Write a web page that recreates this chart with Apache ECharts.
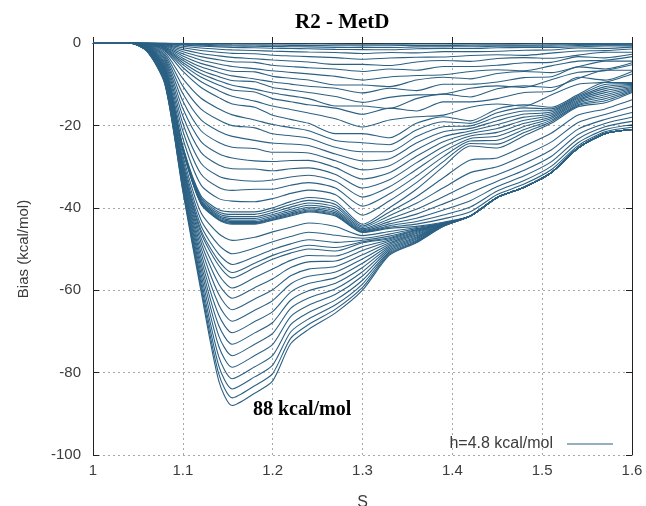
<!DOCTYPE html>
<html>
<head>
<meta charset="utf-8">
<script src="https://cdn.jsdelivr.net/npm/echarts@6/dist/echarts.min.js"></script>
<style>
  html, body { margin: 0; padding: 0; background: #fff; }
  #chart { width: 646px; height: 506px; }
</style>
</head>
<body>
<div id="chart"></div>
<script>
var sValues = [1.00, 1.04, 1.06, 1.08, 1.10, 1.12, 1.14, 1.155, 1.18, 1.20, 1.22, 1.24,
               1.27, 1.30, 1.33, 1.36, 1.39, 1.42, 1.45, 1.48, 1.51, 1.54, 1.57, 1.60];

// early profiles: shallow filling over the whole range
var earlyBias = [
  [0,0,0,-0.03,-0.09,-0.14,-0.17,-0.19,-0.21,-0.23,-0.24,-0.25,-0.27,-0.3,-0.27,-0.26,-0.25,-0.23,-0.22,-0.23,-0.19,-0.15,-0.14,-0.11],
  [0,0,0,-0.06,-0.21,-0.33,-0.41,-0.46,-0.5,-0.54,-0.57,-0.6,-0.65,-0.7,-0.65,-0.6,-0.6,-0.55,-0.5,-0.55,-0.45,-0.35,-0.35,-0.3],
  [0,0,0,-0.1,-0.33,-0.52,-0.65,-0.72,-0.79,-0.86,-0.9,-0.95,-1.05,-1.1,-1.1,-0.95,-0.9,-0.9,-0.8,-0.75,-0.75,-0.6,-0.5,-0.45],
  [0,0,0,-0.14,-0.49,-0.77,-0.95,-1.06,-1.16,-1.26,-1.33,-1.4,-1.55,-1.6,-1.65,-1.4,-1.3,-1.35,-1.15,-1.1,-1.1,-0.9,-0.7,-0.7],
  [0,0,0,-0.22,-0.77,-1.21,-1.5,-1.67,-1.83,-1.98,-2.09,-2.2,-2.3,-2.55,-2.3,-2.4,-2.1,-2.1,-2.0,-1.75,-1.7,-1.2,-1.3,-1.0],
  [0,0,0,-0.33,-1.16,-1.82,-2.24,-2.51,-2.6,-2.97,-3.14,-3.3,-3.55,-3.95,-3.65,-3.45,-3.4,-3.05,-2.85,-3.0,-2.45,-1.95,-1.85,-1.45],
  [0,0,0,-0.46,-1.61,-2.53,-3.13,-3.5,-3.82,-4.14,-4.37,-4.6,-5.2,-5.2,-5.45,-4.6,-4.25,-4.45,-3.75,-3.55,-3.7,-2.95,-2.25,-2.25],
  [0,0,-0.1,-0.6,-2.1,-3.3,-4.08,-4.56,-4.7,-5.4,-5.7,-6.0,-6.3,-6.9,-6.3,-6.6,-5.7,-5.7,-5.4,-4.8,-4.7,-3.3,-3.6,-2.75],
  [0,0,-0.1,-0.75,-2.63,-4.13,-5.1,-5.7,-6.23,-6.75,-7.13,-7.5,-8.1,-9.0,-8.25,-7.9,-7.7,-6.9,-6.5,-6.75,-5.55,-4.4,-4.2,-3.3],
  [0,0,-0.1,-0.9,-3.15,-4.95,-6.12,-6.84,-7.0,-8.1,-8.55,-9.0,-10.2,-10.2,-10.6,-9.0,-8.3,-8.7,-7.4,-6.9,-7.2,-5.75,-4.4,-4.4],
  [0,0,-0.2,-1.05,-3.68,-5.78,-7.14,-7.98,-8.72,-9.45,-9.98,-10.5,-11.0,-12.1,-11.0,-11.55,-10.0,-10.0,-9.45,-8.4,-8.2,-5.8,-6.3,-4.8],
  [0,0,-0.2,-1.2,-4.2,-6.6,-8.16,-9.12,-9.4,-10.8,-11.4,-12.0,-13.0,-14.4,-13.2,-12.6,-12.4,-11.0,-10.4,-10.8,-8.9,-7.1,-6.7,-5.3],
  [0,0,-0.2,-1.35,-4.73,-7.43,-9.18,-10.26,-11.2,-12.15,-12.83,-13.5,-15.3,-15.3,-15.9,-13.5,-12.4,-13.1,-11.1,-10.4,-10.8,-8.6,-6.6,-6.6],
  [0,0,-0.2,-1.5,-5.25,-8.25,-10.2,-11.4,-11.9,-13.5,-14.25,-15.0,-15.8,-17.3,-15.8,-16.5,-14.3,-14.3,-13.5,-12.0,-11.7,-8.3,-9.0,-6.9],
  [0,0,-0.3,-1.7,-5.95,-9.35,-11.56,-12.92,-14.11,-15.3,-16.15,-17.0,-18.4,-20.4,-18.7,-17.9,-17.5,-15.6,-14.8,-15.3,-12.6,-10.0,-9.5,-7.5],
  [0,0,-0.3,-1.95,-6.83,-10.73,-13.26,-14.82,-15.6,-17.55,-18.53,-19.5,-22.0,-22.0,-23.0,-19.5,-17.9,-18.9,-16.0,-15.0,-15.6,-12.5,-9.6,-9.6]
];

// middle profiles: the well near S=1.15 starts to deepen
var middleBias = [
  [0,0,-0.37,-2.36,-8.65,-13.36,-15.98,-17.44,-18.67,-19.8,-20.53,-21.3,-23.65,-24.2,-24.7,-21.1,-19.11,-19.51,-16.95,-15.75,-15.99,-12.8,-10.09,-9.84],
  [0,0,-0.44,-2.76,-10.46,-15.98,-18.71,-20.06,-20.6,-22.04,-22.52,-23.1,-25.3,-26.4,-26.4,-22.7,-20.32,-20.12,-17.9,-16.5,-16.38,-13.1,-10.58,-10.08],
  [0,0,-0.51,-3.17,-12.28,-18.61,-21.43,-22.67,-23.63,-24.29,-24.52,-24.9,-26.95,-28.6,-28.1,-24.3,-21.53,-20.73,-18.85,-17.25,-16.77,-13.4,-11.07,-10.32],
  [0,0,-0.58,-3.57,-14.1,-21.24,-24.16,-25.29,-25.6,-26.53,-26.52,-26.7,-28.6,-30.8,-29.8,-25.9,-22.74,-21.34,-19.8,-18.0,-17.16,-13.7,-11.56,-10.56],
  [0,0,-0.65,-3.98,-15.92,-23.87,-26.88,-27.91,-28.6,-28.78,-28.52,-28.5,-30.25,-33.0,-31.5,-27.5,-23.95,-21.95,-20.75,-18.75,-17.55,-14.0,-12.05,-10.8],
  [0,0,-0.72,-4.38,-17.73,-26.49,-29.6,-30.53,-30.6,-31.02,-30.51,-30.3,-31.9,-35.2,-33.2,-29.1,-25.16,-22.56,-21.7,-19.5,-17.94,-14.3,-12.54,-11.04],
  [0,0,-0.79,-4.79,-19.55,-29.12,-32.33,-33.15,-33.56,-33.27,-32.51,-32.1,-33.55,-37.4,-34.9,-30.7,-26.37,-23.17,-22.65,-20.25,-18.33,-14.6,-13.03,-11.28],
  [0,0,-0.86,-5.19,-21.37,-31.75,-35.05,-35.76,-35.5,-35.51,-34.51,-33.9,-35.2,-39.6,-36.6,-32.3,-27.58,-23.78,-23.6,-21.0,-18.72,-14.9,-13.52,-11.52],
  [0,0,-0.93,-5.6,-23.18,-34.38,-37.77,-38.38,-38.52,-37.76,-36.5,-35.7,-36.85,-41.8,-38.3,-33.9,-28.79,-24.39,-24.55,-21.75,-19.11,-15.2,-14.01,-11.76],
  [0,0,-1.0,-6.0,-25.0,-37.0,-40.5,-41.0,-41.0,-40.0,-38.5,-37.5,-38.5,-44.0,-40.0,-35.5,-30.0,-25.0,-25.5,-22.5,-19.5,-15.5,-14.5,-12.0]
];

// profiles filling the region S > 1.35
var rightFillBias = [
  [0,0,-1.04,-6.2,-25.2,-37.4,-41.0,-41.6,-41.6,-40.6,-39.2,-38.2,-39.2,-44.4,-41.0,-37.3,-32.7,-28.4,-27.9,-25.0,-21.9,-17.5,-16.0,-13.8],
  [0,0,-1.08,-6.38,-25.38,-37.76,-41.45,-42.14,-42.14,-41.14,-39.83,-38.83,-39.83,-44.76,-41.9,-38.92,-35.13,-31.46,-30.06,-27.25,-24.06,-19.3,-17.35,-15.42],
  [0,0,-1.11,-6.54,-25.54,-38.08,-41.85,-42.62,-42.62,-41.62,-40.39,-39.39,-40.39,-45.08,-42.7,-40.36,-37.29,-34.18,-31.98,-29.25,-25.98,-20.9,-18.55,-16.86],
  [0,0,-1.13,-6.67,-25.67,-38.34,-42.18,-43.01,-43.01,-42.01,-40.85,-39.85,-40.85,-45.34,-43.35,-41.53,-39.05,-36.39,-33.54,-30.88,-27.54,-22.2,-19.53,-18.03],
  [0,0,-1.16,-6.78,-25.78,-38.56,-42.45,-43.34,-43.34,-42.34,-41.23,-40.23,-41.23,-45.56,-43.9,-42.52,-40.53,-38.26,-34.86,-32.25,-28.86,-23.3,-20.35,-19.02],
  [0,0,-1.17,-6.87,-25.87,-38.74,-42.68,-43.61,-43.61,-42.61,-41.55,-40.55,-41.55,-45.74,-44.35,-43.33,-41.75,-39.79,-35.94,-33.38,-29.94,-24.2,-21.03,-19.83],
  [0,0,-1.19,-6.94,-25.94,-38.88,-42.85,-43.82,-43.82,-42.82,-41.79,-40.79,-41.79,-45.88,-44.7,-43.96,-42.69,-40.98,-36.78,-34.25,-30.78,-24.9,-21.55,-20.46],
  [0,0,-1.2,-7.0,-26.0,-39.0,-43.0,-44.0,-44.0,-43.0,-42.0,-41.0,-42.0,-46.0,-45.0,-44.5,-43.5,-42.0,-37.5,-35.0,-31.5,-25.5,-22.0,-21.0]
];

// late profiles: the well at S=1.15 grows to 88 kcal/mol
var wellBias = [
  [0,0,-1.29,-7.3,-27.2,-41.1,-46.3,-47.9,-47.15,-45.85,-44.7,-43.7,-44.55,-46.75,-45.75,-44.8,-43.65,-42,-37.5,-35,-31.5,-25.5,-22,-21],
  [0,0,-1.37,-7.55,-28.2,-42.85,-49.05,-51.15,-49.78,-48.23,-46.95,-45.95,-46.68,-47.38,-46.38,-45.05,-43.78,-42,-37.5,-35,-31.5,-25.5,-22,-21],
  [0,0,-1.43,-7.75,-29,-44.25,-51.25,-53.75,-51.88,-50.13,-48.75,-47.75,-48.38,-47.88,-46.88,-45.25,-43.88,-42,-37.5,-35,-31.5,-25.5,-22,-21],
  [0,0,-1.47,-7.9,-29.6,-45.3,-52.9,-55.7,-53.45,-51.55,-50.1,-49.1,-49.65,-48.25,-47.25,-45.4,-43.95,-42,-37.5,-35,-31.5,-25.5,-22,-21],
  [0,0,-1.5,-8,-30,-46,-54,-57,-54.5,-52.5,-51,-50,-50.5,-48.5,-47.5,-45.5,-44,-42,-37.5,-35,-31.5,-25.5,-22,-21],
  [0,0,-1.54,-8.16,-30.48,-47.12,-56.24,-59.48,-56.94,-54.86,-52.76,-51.56,-51.7,-49.42,-47.82,-45.74,-44.04,-42,-37.5,-35,-31.5,-25.5,-22,-21],
  [0,0,-1.58,-8.32,-30.96,-48.24,-58.48,-61.96,-59.38,-57.22,-54.52,-53.12,-52.9,-50.34,-48.14,-45.98,-44.08,-42,-37.5,-35,-31.5,-25.5,-22,-21],
  [0,0,-1.63,-8.5,-31.5,-49.5,-61,-64.75,-62.13,-59.88,-56.5,-54.88,-54.25,-51.38,-48.5,-46.25,-44.13,-42,-37.5,-35,-31.5,-25.5,-22,-21],
  [0,0,-1.67,-8.68,-32.04,-50.76,-63.52,-67.54,-64.87,-62.53,-58.48,-56.63,-55.6,-52.41,-48.86,-46.52,-44.17,-42,-37.5,-35,-31.5,-25.5,-22,-21],
  [0,0,-1.72,-8.86,-32.58,-52.02,-66.04,-70.33,-67.62,-65.19,-60.46,-58.39,-56.95,-53.45,-49.22,-46.79,-44.22,-42,-37.5,-35,-31.5,-25.5,-22,-21],
  [0,0,-1.76,-9.04,-33.12,-53.28,-68.56,-73.12,-70.36,-67.84,-62.44,-60.14,-58.3,-54.48,-49.58,-47.06,-44.26,-42,-37.5,-35,-31.5,-25.5,-22,-21],
  [0,0,-1.81,-9.22,-33.66,-54.54,-71.08,-75.91,-73.11,-70.5,-64.42,-61.9,-59.65,-55.52,-49.94,-47.33,-44.31,-42,-37.5,-35,-31.5,-25.5,-22,-21],
  [0,0,-1.85,-9.4,-34.2,-55.8,-73.6,-78.7,-75.85,-73.15,-66.4,-63.65,-61,-56.55,-50.3,-47.6,-44.35,-42,-37.5,-35,-31.5,-25.5,-22,-21],
  [0,0,-1.9,-9.58,-34.74,-57.06,-76.12,-81.49,-78.6,-75.81,-68.38,-65.41,-62.35,-57.59,-50.66,-47.87,-44.4,-42,-37.5,-35,-31.5,-25.5,-22,-21],
  [0,0,-1.94,-9.74,-35.22,-58.18,-78.36,-83.97,-81.04,-78.17,-70.14,-66.97,-63.55,-58.51,-50.98,-48.11,-44.44,-42,-37.5,-35,-31.5,-25.5,-22,-21],
  [0,0,-1.97,-9.88,-35.64,-59.16,-80.32,-86.14,-83.17,-80.23,-71.68,-68.33,-64.6,-59.31,-51.26,-48.32,-44.47,-42,-37.5,-35,-31.5,-25.5,-22,-21],
  [0,0,-2,-10,-36,-60,-82,-88,-85,-82,-73,-69.5,-65.5,-60,-51.5,-48.5,-44.5,-42,-37.5,-35,-31.5,-25.5,-22,-21]
];

var legendName = 'h=4.8 kcal/mol';

var lineColor = '#2c6184';
var textColor = '#3c3c3c';
var sansFont = '"Liberation Sans", Arial, sans-serif';
var serifFont = '"Liberation Serif", "Times New Roman", serif';

var allProfiles = earlyBias.concat(middleBias, rightFillBias, wellBias);

var series = allProfiles.map(function (profile) {
  return {
    name: legendName,
    type: 'line',
    symbol: 'none',
    smooth: 0.25,
    silent: true,
    itemStyle: { color: lineColor },
    lineStyle: { color: lineColor, width: 1.1 },
    data: sValues.map(function (s, i) { return [s, profile[i]]; })
  };
});

function fmtX(v) {
  return v === 1 ? '1' : v.toFixed(1);
}

// gnuplot-like frame: ticks inside on all four sides
function mirrorAxis(base) {
  return Object.assign({
    type: 'value',
    axisLine: { show: true, lineStyle: { color: '#222', width: 1 } },
    axisTick: { show: true, inside: true, length: 6, lineStyle: { color: '#222' } },
    axisLabel: { show: false },
    splitLine: { show: false }
  }, base);
}

var gridLine = { show: true, lineStyle: { color: '#a8a8a8', type: [2, 3], width: 1 } };

var chart = echarts.init(document.getElementById('chart'));

chart.setOption({
  backgroundColor: '#ffffff',
  animation: false,
  title: {
    text: 'R2 - MetD',
    left: 290,
    top: 7,
    textStyle: { fontFamily: serifFont, fontWeight: 'bold', fontSize: 21, color: '#000' }
  },
  legend: {
    data: [{ name: legendName, icon: 'rect' }],
    right: 28,
    top: 431,
    align: 'right',
    itemWidth: 46,
    itemHeight: 1,
    textStyle: { fontFamily: sansFont, fontSize: 16, color: textColor, padding: [0, 9, 0, 0] }
  },
  grid: { left: 93, right: 14, top: 43, bottom: 51, outerBoundsMode: 'none', containLabel: false },
  xAxis: [
    mirrorAxis({
      min: 1, max: 1.6, interval: 0.1,
      name: 'S',
      nameLocation: 'middle',
      nameGap: 40,
      nameTextStyle: { fontFamily: sansFont, fontSize: 16, color: textColor },
      axisLabel: { show: true, formatter: fmtX, fontFamily: sansFont, fontSize: 15, color: textColor, margin: 8 },
      splitLine: gridLine
    }),
    mirrorAxis({ position: 'top', min: 1, max: 1.6, interval: 0.1 })
  ],
  yAxis: [
    mirrorAxis({
      min: -100, max: 0, interval: 20,
      name: 'Bias (kcal/mol)',
      nameLocation: 'middle',
      nameGap: 62,
      nameTextStyle: { fontFamily: sansFont, fontSize: 15, color: textColor },
      axisLabel: { show: true, fontFamily: sansFont, fontSize: 15, color: textColor, margin: 12 },
      splitLine: gridLine
    }),
    mirrorAxis({ position: 'right', min: -100, max: 0, interval: 20 })
  ],
  graphic: [{
    type: 'text',
    left: 253,
    top: 400,
    style: {
      text: '88 kcal/mol',
      fill: '#000',
      font: 'bold 20px ' + serifFont
    }
  }],
  series: series
});
</script>
</body>
</html>
